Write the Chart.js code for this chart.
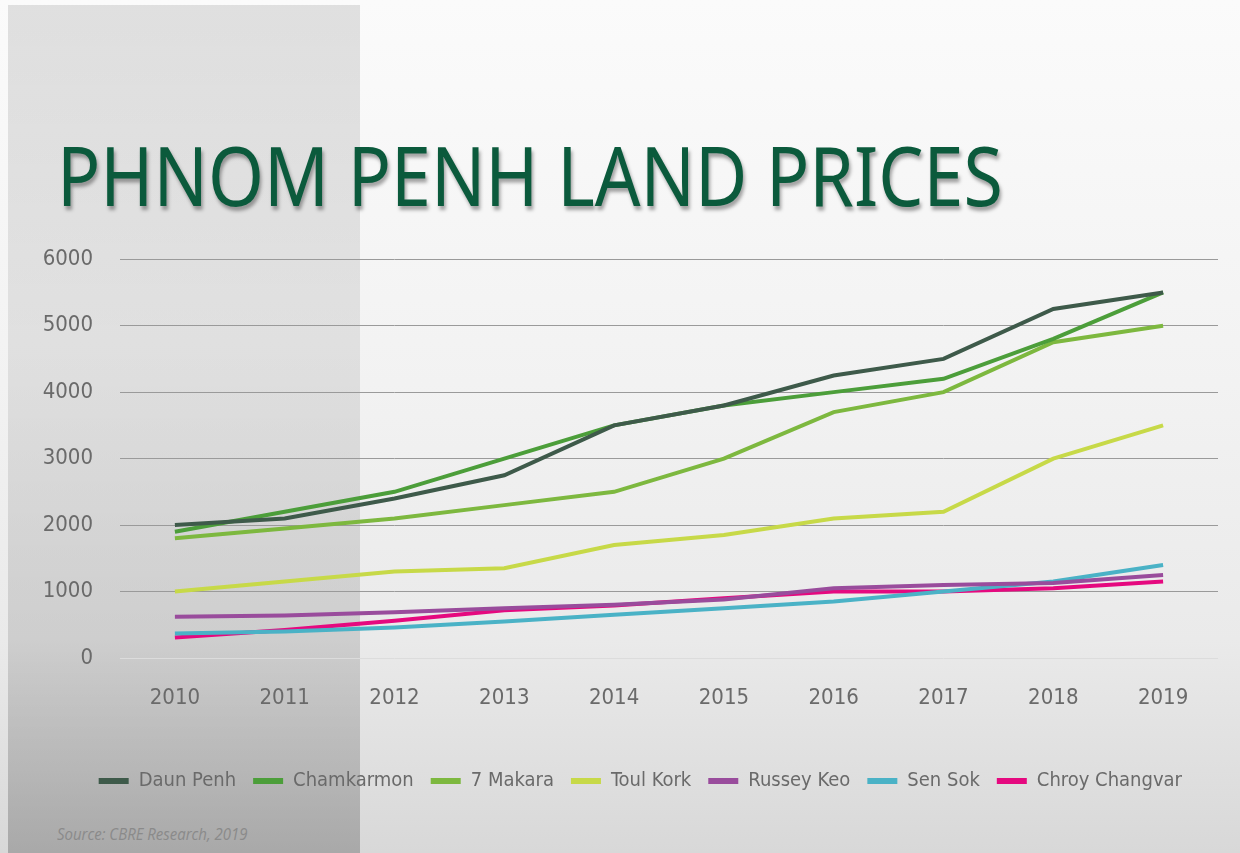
<!DOCTYPE html>
<html>
<head>
<meta charset="utf-8">
<script src="https://cdn.jsdelivr.net/npm/chart.js@4.4.1/dist/chart.umd.min.js"></script>
<style>
  html, body { margin: 0; padding: 0; }
  body {
    width: 1240px; height: 853px; position: relative; overflow: hidden;
    background: linear-gradient(to bottom, #fbfbfb 0%, #f2f2f2 45%, #eaeaea 75%, #d8d8d8 100%);
  }
  #panel {
    position: absolute; left: 8px; top: 5px; width: 352px; height: 848px;
    background: linear-gradient(to bottom, rgba(0,0,0,0.11) 0%, rgba(0,0,0,0.08) 40%, rgba(0,0,0,0.12) 75%, rgba(0,0,0,0.22) 100%);
  }
  #title {
    position: absolute; left: 57px; top: 118px; white-space: nowrap;
    font-family: "Noto Sans", sans-serif; font-size: 82px; color: #0b5a3c;
    text-shadow: 2px 4px 4px rgba(0,0,0,0.35);
    transform-origin: left top;
  }
  #source {
    position: absolute; left: 57px; top: 822px; white-space: nowrap;
    font-family: "Open Sans", sans-serif; font-style: italic; font-size: 17px; color: #8a8a8a;
    transform: scaleX(0.88); transform-origin: left top;
  }
  #wrap { position: absolute; left: 0; top: 219px; width: 1240px; height: 591px; }
</style>
</head>
<body>
<div id="panel"></div>
<div id="title">PHNOM PENH LAND PRICES</div>
<div id="wrap"><canvas id="chart"></canvas></div>
<div id="source">Source: CBRE Research, 2019</div>
<script>
// years on the x axis
var years = ['2010', '2011', '2012', '2013', '2014', '2015', '2016', '2017', '2018', '2019'];

// land price per district
var daunPenh      = [2000, 2100, 2400, 2750, 3500, 3800, 4250, 4500, 5250, 5500];
var chamkarmon    = [1900, 2200, 2500, 3000, 3500, 3800, 4000, 4200, 4800, 5500];
var sevenMakara   = [1800, 1950, 2100, 2300, 2500, 3000, 3700, 4000, 4750, 5000];
var toulKork      = [1000, 1150, 1300, 1350, 1700, 1850, 2100, 2200, 3000, 3500];
var russeyKeo     = [620, 640, 690, 750, 800, 880, 1050, 1100, 1130, 1250];
var senSok        = [370, 400, 460, 550, 650, 750, 850, 1000, 1150, 1400];
var chroyChangvar = [310, 420, 560, 720, 790, 900, 1000, 1000, 1050, 1150];

var names  = ['Daun Penh', 'Chamkarmon', '7 Makara', 'Toul Kork', 'Russey Keo', 'Sen Sok', 'Chroy Changvar'];
var series = [daunPenh, chamkarmon, sevenMakara, toulKork, russeyKeo, senSok, chroyChangvar];
var colors = ['#3e5a4a', '#4c9e3a', '#7db83f', '#c7d948', '#994c9c', '#4ab2c6', '#e5097f'];

// fit the title to the width it has in the picture
var t = document.getElementById('title');
t.style.transform = 'scaleX(' + (946 / t.offsetWidth) + ')';

var datasets = [];
for (let i = 0; i < series.length; i++) {
    datasets.push({
        label: names[i],
        data: series[i],
        borderColor: colors[i],
        backgroundColor: colors[i],
        borderWidth: 4,
        pointRadius: 0,
        tension: 0
    });
}

// narrow font, like the one in the picture
var tickFont = { family: "'DejaVu Sans', sans-serif", weight: 'condensed', size: 22 };
var legendFont = { family: "'DejaVu Sans', sans-serif", weight: 'condensed', size: 20 };

// nudge the legend a bit to the left, where it sits in the picture
var legendShift = {
    id: 'legendShift',
    afterLayout: function(c) {
        c.legend.left -= 19;
        c.legend.right -= 19;
    }
};

var ctx = document.getElementById('chart').getContext('2d');
var chart = new Chart(ctx, {
    type: 'line',
    data: { labels: years, datasets: datasets },
    plugins: [legendShift],
    options: {
        responsive: true,
        maintainAspectRatio: false,
        animation: false,
        layout: { padding: { top: 18, right: 22, bottom: 9, left: 0 } },
        plugins: {
            tooltip: { enabled: false },
            legend: {
                position: 'bottom',
                align: 'end',
                labels: {
                    color: '#6a6a6a',
                    font: legendFont,
                    boxWidth: 30,
                    boxHeight: 6,
                    padding: 17,
                    generateLabels: function(c) {
                        var items = Chart.defaults.plugins.legend.labels.generateLabels(c);
                        items.forEach(function(it) { it.lineWidth = 0; });
                        return items;
                    }
                }
            }
        },
        scales: {
            x: {
                offset: true,
                grid: { display: false },
                border: { display: false },
                ticks: { color: '#6a6a6a', font: tickFont, padding: 19, maxRotation: 0 },
                afterFit: function(s) { s.height = 96; }
            },
            y: {
                min: 0,
                max: 6000,
                border: { display: false },
                grid: {
                    color: function(c) { return c.tick && c.tick.value === 0 ? '#dcdcdc' : '#9a9a9a'; },
                    lineWidth: 1,
                    drawTicks: false
                },
                ticks: {
                    stepSize: 1000, color: '#6a6a6a', font: tickFont, padding: 27,
                    callback: function(v) { return String(v); }
                },
                afterFit: function(s) { s.width = 120; }
            }
        }
    }
});
</script>
</body>
</html>
